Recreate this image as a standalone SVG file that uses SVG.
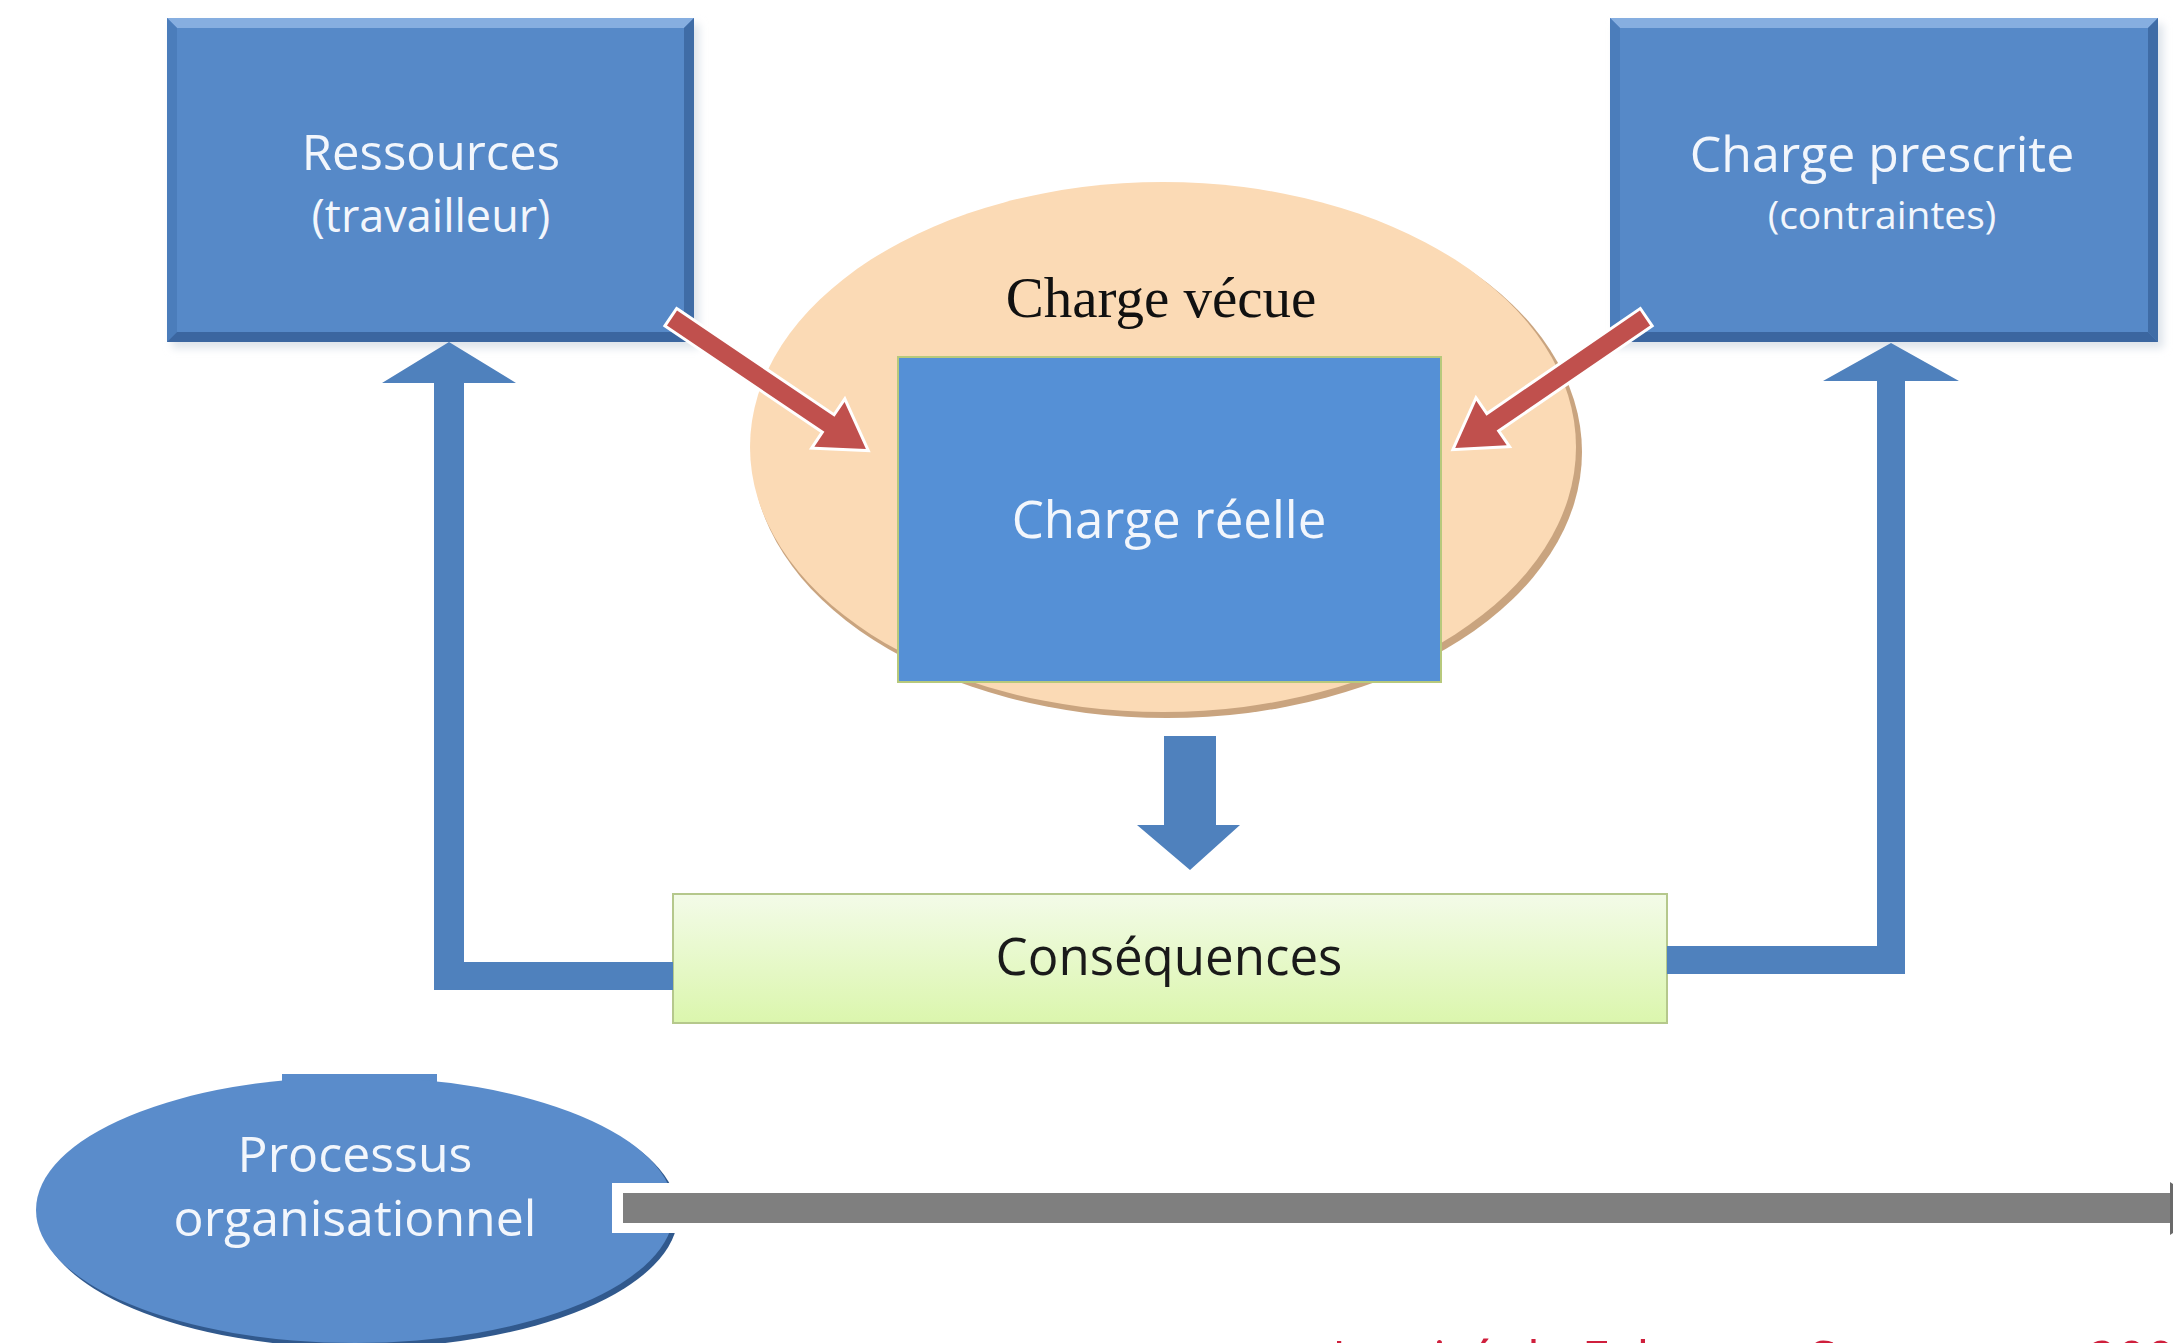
<svg xmlns="http://www.w3.org/2000/svg" width="2173" height="1343" viewBox="0 0 2173 1343">
<style>
.lbl{font-family:"Open Sans","Liberation Sans",sans-serif;fill:#f2f6fc;text-anchor:middle}
.dark{fill:#1a1a1a}
.serif{font-family:"Liberation Serif","Times New Roman",serif;fill:#111;text-anchor:middle}
.box{fill:#5689c8}
.bvT{fill:#86aee0}
.bvL{fill:#4b7dbb}
.bvR{fill:#3f6ca6}
.bvB{fill:#3b66a0}
.blue{fill:#4f81bd}
.red{fill:#c0504d;stroke:#ffffff;stroke-width:6;stroke-linejoin:miter;paint-order:stroke}
</style>
<defs>
<linearGradient id="gGreen" x1="0" y1="0" x2="0" y2="1">
<stop offset="0" stop-color="#f3fbe8"/>
<stop offset="1" stop-color="#dbf6ad"/>
</linearGradient>
<filter id="soft" x="-10%" y="-10%" width="120%" height="130%">
<feGaussianBlur stdDeviation="4"/>
</filter>
</defs>
<rect width="2173" height="1343" fill="#ffffff"/>

<g id="vecue">
<ellipse cx="1167" cy="452" rx="415" ry="266" fill="#c9a47f"/>
<ellipse cx="1163" cy="447" rx="413" ry="265" fill="#fbdab5"/>
<text class="serif" x="1161" y="317" font-size="57">Charge vécue</text>
</g>

<g id="ressources">
<rect x="172" y="24" width="527" height="324" fill="#dde3ea" filter="url(#soft)"/>
<rect class="box" x="167" y="18" width="527" height="324"/>
<polygon class="bvT" points="167,18 694,18 684,28 177,28"/>
<polygon class="bvL" points="167,18 177,28 177,332 167,342"/>
<polygon class="bvR" points="694,18 694,342 684,332 684,28"/>
<polygon class="bvB" points="167,342 694,342 684,332 177,332"/>
<text class="lbl" x="431" y="170" font-size="49">Ressources</text>
<text class="lbl" x="431" y="232" font-size="45">(travailleur)</text>
</g>

<g id="prescrite">
<rect x="1615" y="24" width="548" height="324" fill="#dde3ea" filter="url(#soft)"/>
<rect class="box" x="1610" y="18" width="548" height="324"/>
<polygon class="bvT" points="1610,18 2158,18 2148,28 1620,28"/>
<polygon class="bvL" points="1610,18 1620,28 1620,332 1610,342"/>
<polygon class="bvR" points="2158,18 2158,342 2148,332 2148,28"/>
<polygon class="bvB" points="1610,342 2158,342 2148,332 1620,332"/>
<text class="lbl" x="1882" y="172" font-size="50">Charge prescrite</text>
<text class="lbl" x="1882" y="229" font-size="39">(contraintes)</text>
</g>

<g id="reelle">
<rect x="898" y="357" width="543" height="325" fill="#5590d6" stroke="#b7c97c" stroke-width="2"/>
<text class="lbl" x="1169" y="538" font-size="51">Charge réelle</text>
</g>

<g id="consequences">
<rect x="673" y="894" width="994" height="129" fill="url(#gGreen)" stroke="#b5c88c" stroke-width="2"/>
<text class="lbl dark" x="1169" y="975" font-size="51">Conséquences</text>
</g>

<g id="processus">
<ellipse cx="359" cy="1214" rx="319" ry="134" fill="#31598d"/>
<rect x="282" y="1074" width="155" height="8" fill="#5a8ccb"/>
<ellipse cx="355" cy="1210" rx="319" ry="133" fill="#5a8ccb"/>
<text class="lbl" x="355" y="1172" font-size="50">Processus</text>
<text class="lbl" x="355" y="1236" font-size="50">organisationnel</text>
</g>

<g id="connectors">
<path class="red" transform="translate(672,318) rotate(34.03)" d="M0,-9 H190 V-27 L234,0 L190,27 V9 H0 Z"/>
<path class="red" transform="translate(1645,318) rotate(145.6)" d="M0,-9 H186 V-27 L230,0 L186,27 V9 H0 Z"/>
<path class="blue" d="M1164,736 H1216 V825 H1240 L1190,870 L1137,825 H1164 Z"/>
<path class="blue" d="M382,383 L449,342 L516,383 H464 V962 H673 V990 H434 V383 Z"/>
<path class="blue" d="M1823,381 L1891,343 L1959,381 H1905 V974 H1667 V946 H1877 V381 Z"/>
<rect x="612" y="1183" width="1561" height="50" fill="#ffffff"/>
<rect x="623" y="1193" width="1550" height="30" fill="#7f7f7f"/>
<polygon points="2170,1182 2210,1208 2170,1235" fill="#6a6a6a"/>
</g>

<text x="1332" y="1378" font-family="Open Sans, Liberation Sans, sans-serif" font-size="51" fill="#cf1f3c">Inspiré de Falzon et Sauvagnac, 2004</text>
</svg>
